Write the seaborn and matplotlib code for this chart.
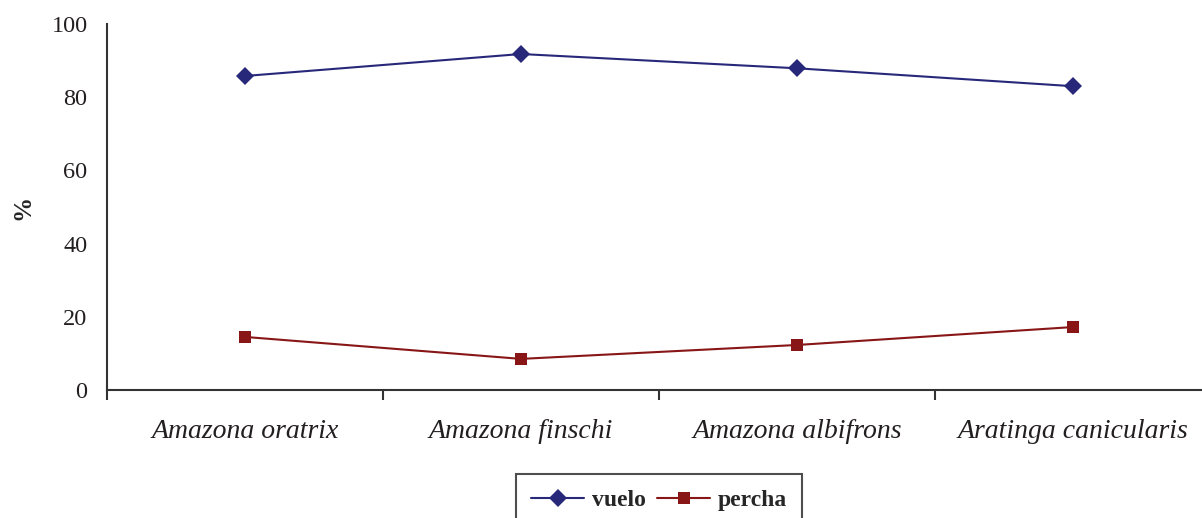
import matplotlib
matplotlib.use("Agg")
import matplotlib.pyplot as plt
import seaborn as sns
import pandas as pd
import numpy as np

species = ["Amazona oratrix", "Amazona finschi", "Amazona albifrons", "Aratinga canicularis"]
vuelo = [85.8, 91.8, 87.9, 83.0]
percha = [14.5, 8.5, 12.3, 17.2]
series_names = ["vuelo", "percha"]
y_ticks = [0, 20, 40, 60, 80, 100]

sns.set_theme(style="white")
plt.rcParams["font.family"] = ["Liberation Serif", "DejaVu Serif"]

df = pd.DataFrame({
    "especie": species * 2,
    "valor": vuelo + percha,
    "serie": [series_names[0]] * len(species) + [series_names[1]] * len(species),
})

fig = plt.figure(figsize=(12.02, 5.18), dpi=100)
ax = fig.add_axes([107 / 1202, 128 / 518, (1211 - 107) / 1202, (494 - 128) / 518])

palette = {"vuelo": "#28287A", "percha": "#881616"}
sns.lineplot(data=df, x="especie", y="valor", hue="serie", style="serie",
             markers={"vuelo": "D", "percha": "s"}, dashes=False,
             palette=palette, markersize=8, linewidth=1.5,
             markeredgewidth=0, ax=ax, sort=False)

# slightly larger diamonds than squares
for line in ax.lines:
    if line.get_marker() == "D":
        line.set_markersize(9.5)

ax.set_xlim(-0.5, len(species) - 0.5)
ax.set_ylim(0, 100)
ax.set_yticks(y_ticks)
ax.set_yticklabels([str(t) for t in y_ticks], fontsize=17.5, color="#231F20")
ax.set_xticks(range(len(species)))
ax.set_xticklabels(species, fontsize=20, style="italic", color="#231F20")
ax.set_xticks(np.arange(-0.5, len(species), 1.0), minor=True)
ax.tick_params(axis="x", which="major", length=0, pad=21)
ax.tick_params(axis="x", which="minor", length=7, width=1.5, color="#333333", direction="out")
ax.tick_params(axis="y", which="major", length=7, width=1.5, color="#333333", direction="out", pad=7)
ax.tick_params(axis="x", which="minor", bottom=True)

ax.set_xlabel("")
ax.set_ylabel("%", fontsize=18, fontweight="bold", labelpad=12)

for side in ["top", "right"]:
    ax.spines[side].set_visible(False)
for side in ["left", "bottom"]:
    ax.spines[side].set_color("#333333")
    ax.spines[side].set_linewidth(1.5)

handles, labels = ax.get_legend_handles_labels()
for h in handles:
    if h.get_marker() == "D":
        h.set_markersize(9.5)
leg = fig.legend(handles, labels, loc="upper left", bbox_to_anchor=(516 / 1202, 1 - 474 / 518),
                 ncol=2, frameon=True, fancybox=False, edgecolor="#222222",
                 prop={"size": 17, "weight": "bold"}, handlelength=2.25,
                 columnspacing=0.5, handletextpad=0.3, borderpad=0.65,
                 borderaxespad=0)
leg.get_frame().set_linewidth(1.5)
ax.get_legend().remove()

fig.savefig("out.png", dpi=100)
